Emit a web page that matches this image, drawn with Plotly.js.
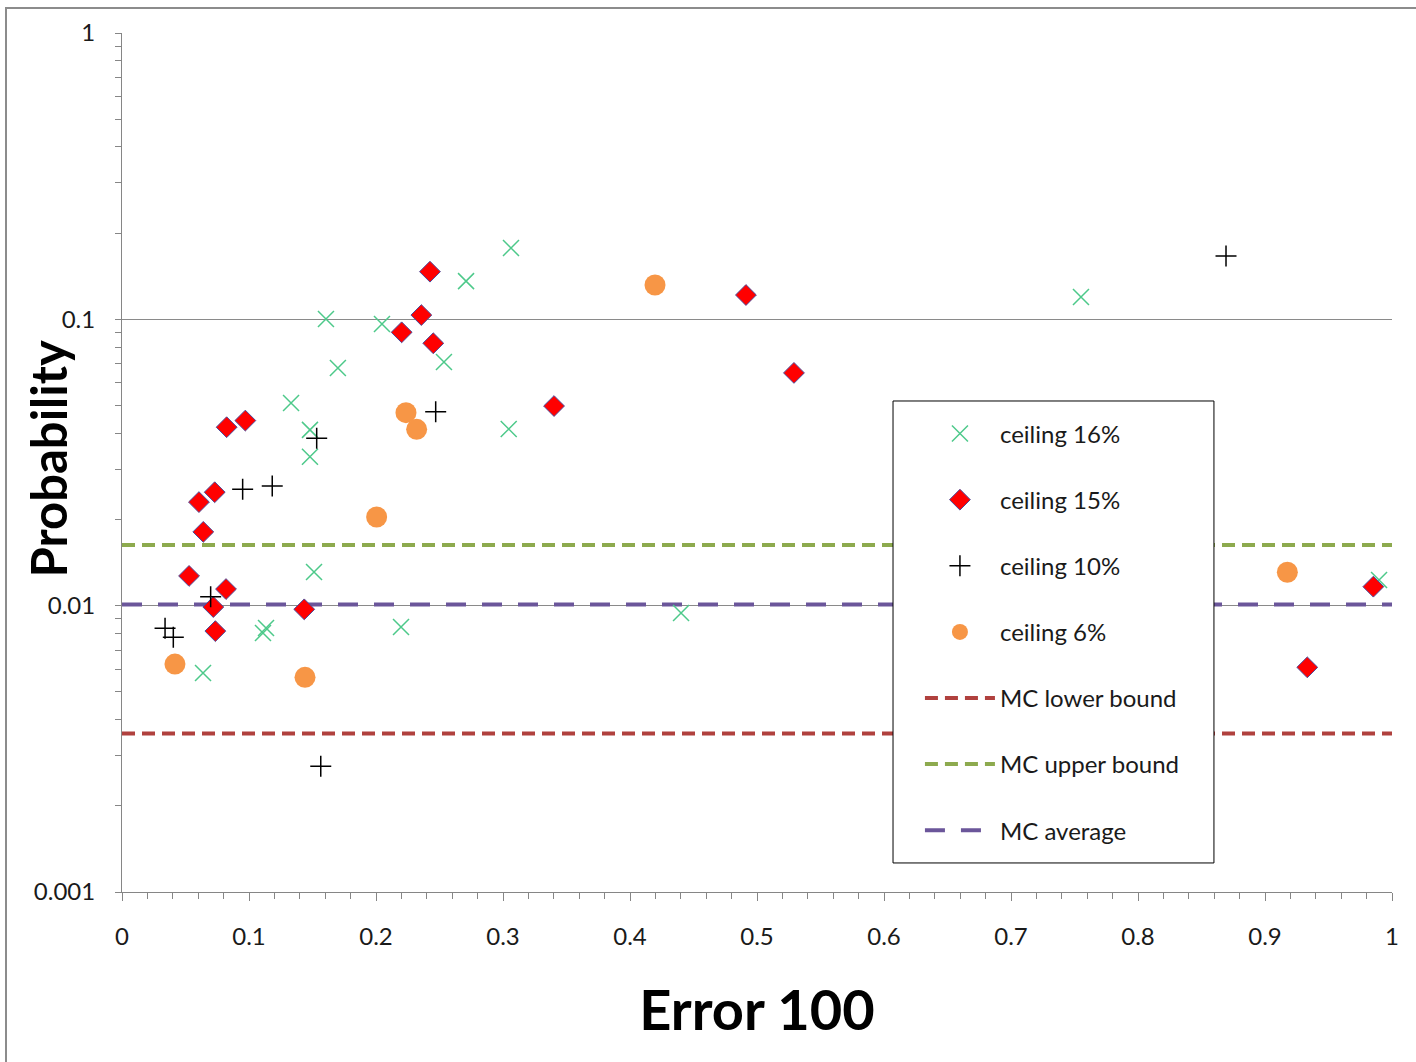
<!DOCTYPE html>
<html>
<head>
<meta charset="utf-8">
<script src="https://cdn.plot.ly/plotly-3.0.1.min.js"></script>
<style>
  html, body { margin: 0; padding: 0; background: #fff; }
  #wrap { position: relative; width: 1416px; height: 1062px; overflow: hidden; }
  #chart { position: absolute; left: 0; top: 0; width: 1416px; height: 1062px; }
  #frame { position: absolute; left: 5px; top: 7px; width: 1500px; height: 1500px;
           border-left: 2px solid #8c8c8c; border-top: 2px solid #8c8c8c; pointer-events: none; }
</style>
</head>
<body>
<div id="wrap"><div id="chart"></div><div id="frame"></div></div>
<script>
// ---- data ----
const c16X = [0.0638, 0.111, 0.1134, 0.1331, 0.148, 0.148, 0.1512, 0.1606, 0.170, 0.2047, 0.2197, 0.2535, 0.2709, 0.3045, 0.3063, 0.4402, 0.7551, 0.9898];
const c16Y = [0.00582, 0.00803, 0.00836, 0.0510, 0.0411, 0.0331, 0.0131, 0.1003, 0.0676, 0.0963, 0.00842, 0.0710, 0.136, 0.0414, 0.1775, 0.00943, 0.1197, 0.0123];

const c15X = [0.0528, 0.0606, 0.0640, 0.0719, 0.0730, 0.0735, 0.0819, 0.0824, 0.0971, 0.1435, 0.2202, 0.2357, 0.2425, 0.2451, 0.3402, 0.4913, 0.5291, 0.9333, 0.9853];
const c15Y = [0.0127, 0.0230, 0.0181, 0.00989, 0.0249, 0.00815, 0.01143, 0.0420, 0.0443, 0.00971, 0.0901, 0.1035, 0.1467, 0.0825, 0.0498, 0.1216, 0.0650, 0.00609, 0.01165];

const c10X = [0.0339, 0.0404, 0.0698, 0.0950, 0.1183, 0.1533, 0.1565, 0.2470, 0.8693];
const c10Y = [0.00834, 0.00775, 0.01075, 0.0255, 0.0262, 0.0384, 0.00275, 0.0476, 0.1664];

const c6X = [0.0417, 0.1441, 0.2005, 0.2236, 0.2320, 0.4197, 0.9176];
const c6Y = [0.00625, 0.00562, 0.0204, 0.0472, 0.0413, 0.1318, 0.01308];

const boundX = [0, 1];
const mcLower = [0.00358, 0.00358];
const mcUpper = [0.0163, 0.0163];
const mcAverage = [0.0101, 0.0101];

const seriesNames = ["ceiling 16%", "ceiling 15%", "ceiling 10%", "ceiling 6%", "MC lower bound", "MC upper bound", "MC average"];
const xTitle = "Error 100";
const yTitle = "Probability";
const yTickVals = [0.001, 0.01, 0.1, 1];
const yTickText = ["0.001", "0.01", "0.1", "1"];

// minor log ticks (2..9 in each decade)
const yMinor = [];
for (let e = -3; e < 0; e++) for (let k = 2; k <= 9; k++) yMinor.push(k * Math.pow(10, e));

const FONT = "Lato, 'Open Sans', sans-serif";

const traces = [
  { x: boundX, y: mcLower, name: seriesNames[4], mode: "lines", legendgroup: "g5", legendrank: 5,
    line: { color: "#B0413E", width: 4, dash: "13px,7px" } },
  { x: boundX, y: mcUpper, name: seriesNames[5], mode: "lines", legendgroup: "g6", legendrank: 6,
    line: { color: "#8DAA4E", width: 4, dash: "13px,7px" } },
  { x: boundX, y: mcAverage, name: seriesNames[6], mode: "lines", legendgroup: "g7", legendrank: 7,
    line: { color: "#6B569A", width: 4, dash: "20px,16px" } },
  { x: c16X, y: c16Y, name: seriesNames[0], mode: "markers", legendgroup: "g1", legendrank: 1,
    marker: { symbol: "x-thin-open", size: 16, color: "#4DC98A", line: { width: 1.5, color: "#4DC98A" } } },
  { x: c15X, y: c15Y, name: seriesNames[1], mode: "markers", legendgroup: "g2", legendrank: 2,
    marker: { symbol: "diamond", size: 16, color: "#FF0000", line: { width: 1, color: "#4B4B9A" } } },
  { x: c10X, y: c10Y, name: seriesNames[2], mode: "markers", legendgroup: "g3", legendrank: 3,
    marker: { symbol: "cross-thin-open", size: 15, color: "#000000", line: { width: 1.5, color: "#000000" } } },
  { x: c6X, y: c6Y, name: seriesNames[3], mode: "markers", legendgroup: "g4", legendrank: 4,
    marker: { symbol: "circle", size: 21, color: "#F79646", line: { width: 0 } } }
];

const layout = {
  width: 1416, height: 1062,
  margin: { l: 122, r: 24, t: 33, b: 170 },
  paper_bgcolor: "#ffffff", plot_bgcolor: "#ffffff",
  font: { family: FONT, color: "#1a1a1a", size: 22 },
  showlegend: true,
  legend: {
    x: 0.6283, xanchor: "left", y: 0.5594, yanchor: "top",
    bgcolor: "rgba(0,0,0,0)", borderwidth: 0,
    traceorder: "grouped", tracegroupgap: 31.9, itemwidth: 70,
    font: { family: FONT, size: 24, color: "#1a1a1a" }
  },
  xaxis: {
    range: [0, 1], dtick: 0.1, tick0: 0,
    showgrid: false, zeroline: false,
    showline: true, linecolor: "#868686", linewidth: 1,
    ticks: "outside", ticklen: 8, tickcolor: "#868686", tickwidth: 1,
    minor: { dtick: 0.02, ticks: "outside", ticklen: 6, tickcolor: "#868686", showgrid: false },
    ticklabelstandoff: 15,
    tickfont: { family: FONT, size: 24, color: "#1a1a1a" },
    title: { text: xTitle, standoff: 42, font: { family: FONT, size: 56, color: "#000", weight: "bold" } }
  },
  yaxis: {
    type: "log", range: [-3, 0],
    tickmode: "array", tickvals: yTickVals, ticktext: yTickText,
    showgrid: true, gridcolor: "#8a8a8a", gridwidth: 1, zeroline: false,
    showline: true, linecolor: "#868686", linewidth: 1,
    ticks: "outside", ticklen: 6, tickcolor: "#868686", tickwidth: 1,
    minor: { tickmode: "array", tickvals: yMinor, ticks: "outside", ticklen: 6, tickcolor: "#868686", showgrid: false },
    ticklabelstandoff: 15,
    tickfont: { family: FONT, size: 24, color: "#1a1a1a" }
  },
  annotations: [
    { text: yTitle, xref: "paper", yref: "paper", x: 0, y: 0.5, xanchor: "center", yanchor: "middle",
      xshift: -75, yshift: 3, textangle: -90, showarrow: false,
      font: { family: FONT, size: 49, color: "#000", weight: "bold" } }
  ],
  shapes: [
    { type: "rect", xref: "paper", yref: "paper", x0: 0.6071, x1: 0.8598, y0: 0.0338, y1: 0.5716,
      layer: "above", fillcolor: "#ffffff", line: { color: "#000000", width: 1 } }
  ]
};

Plotly.newPlot("chart", traces, layout, { displayModeBar: false, responsive: false });
</script>
</body>
</html>
